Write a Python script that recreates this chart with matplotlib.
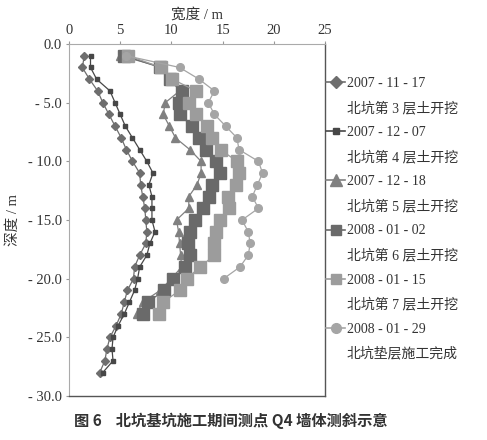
import matplotlib
matplotlib.use("Agg")
import matplotlib.pyplot as plt
from matplotlib.lines import Line2D

plt.rcParams['font.family'] = ['Liberation Serif', 'Noto Sans CJK SC']

# depth (m) of measuring points, negative downwards
depth_28 = [-d for d in range(1, 29)]
depth_23 = [-d for d in range(1, 24)]
depth_20 = [-d for d in range(1, 21)]

# displacement (m)
s_071117 = [1.5, 1.3, 2.0, 2.8, 3.3, 3.9, 4.5, 5.1, 5.6, 6.2, 6.9, 7.0, 7.2, 7.4,
            7.5, 7.6, 7.5, 6.9, 6.4, 6.3, 5.7, 5.4, 5.1, 4.6, 4.0, 3.7, 3.5, 3.0]
s_071207 = [2.1, 2.1, 2.7, 4.0, 4.5, 5.0, 5.5, 6.2, 6.9, 7.6, 8.2, 7.8, 8.1, 8.1,
            8.1, 8.4, 7.9, 7.6, 6.9, 6.7, 6.4, 5.9, 5.4, 4.8, 4.3, 4.2, 4.3, 3.3]
s_071218 = [5.0, 9.2, 9.9, 10.8, 9.4, 9.2, 9.8, 10.4, 11.8, 12.9, 12.9, 12.5,
            11.7, 11.7, 10.5, 10.7, 10.8, 10.9, 11.0, 10.0, 8.9, 7.2, 6.6]
s_080102 = [5.4, 8.9, 9.9, 11.0, 10.7, 10.8, 12.0, 12.7, 13.4, 14.4, 14.7, 14.0,
            13.7, 13.1, 12.3, 11.8, 11.6, 11.8, 11.3, 10.2, 9.3, 7.7, 7.2]
s_080115 = [5.8, 9.0, 10.1, 12.4, 11.7, 12.4, 13.5, 14.0, 14.8, 16.4, 16.6, 16.3,
            15.5, 15.6, 14.7, 14.4, 14.2, 14.2, 12.8, 11.5, 10.8, 9.2, 8.8]
s_080129 = [5.6, 10.8, 12.7, 14.2, 13.6, 14.2, 15.3, 16.4, 16.6, 18.5, 18.9, 18.4,
            17.9, 18.5, 16.9, 17.5, 17.7, 17.5, 16.7, 15.1]

dates = ["2007 - 11 - 17", "2007 - 12 - 07", "2007 - 12 - 18",
         "2008 - 01 - 02", "2008 - 01 - 15", "2008 - 01 - 29"]
stages = ["北坑第 3 层土开挖", "北坑第 4 层土开挖", "北坑第 5 层土开挖",
          "北坑第 6 层土开挖", "北坑第 7 层土开挖", "北坑垫层施工完成"]

# marker, size on plot, size in legend, colour
series = [
    (s_071117, depth_28, "D", 4.5, 6.0, "#6e6e6e"),
    (s_071207, depth_28, "s", 3.5, 4.0, "#474747"),
    (s_071218, depth_23, "^", 6.0, 8.5, "#808080"),
    (s_080102, depth_23, "s", 8.5, 7.0, "#6a6a6a"),
    (s_080115, depth_23, "s", 8.5, 6.5, "#9c9c9c"),
    (s_080129, depth_20, "o", 5.5, 7.0, "#a5a5a5"),
]

fig = plt.figure(figsize=(4.87, 4.40), dpi=100)
ax = fig.add_axes([69 / 487, 1 - 396 / 440, 256 / 487, 352 / 440])

handles = []
labels = []
for (xs, ys, mk, ms, lms, col), dt, st in zip(series, dates, stages):
    ax.plot(xs, ys, color=col, linewidth=0.9, marker=mk, markersize=ms,
            markerfacecolor=col, markeredgecolor=col)
    handles.append(Line2D([], [], color=col, linewidth=1.2, marker=mk,
                          markersize=lms, markerfacecolor=col,
                          markeredgecolor=col))
    labels.append(dt)
    handles.append(Line2D([], [], linestyle="none"))
    labels.append(st)

ax.set_xlim(0, 25)
ax.set_ylim(-30, 0)
ax.xaxis.tick_top()
ax.xaxis.set_label_position("top")
ax.set_xticks([0, 5, 10, 15, 20, 25])
ax.set_yticks([0, -5, -10, -15, -20, -25, -30])
ax.set_yticklabels(["0.0" if v == 0 else f"- {abs(v):.1f}" for v in ax.get_yticks()])
ax.tick_params(axis="both", labelsize=10.5, length=2, color="#999999",
               labelcolor="#333333", pad=3)
ax.set_xlabel("宽度 / m", fontsize=10.5, color="#333333", labelpad=4)
ax.set_ylabel("深度 / m", fontsize=10.5, color="#333333", labelpad=6)

for side in ["left", "top"]:
    ax.spines[side].set_color("#aaaaaa")
    ax.spines[side].set_linewidth(0.8)
for side in ["right", "bottom"]:
    ax.spines[side].set_color("#555555")
    ax.spines[side].set_linewidth(1.0)

fig.legend(handles, labels, loc="upper left",
           bbox_to_anchor=(326 / 487, 1 - 77 / 440), frameon=False,
           fontsize=10, handlelength=1.4, handletextpad=0.1,
           labelspacing=0.8, borderaxespad=0, borderpad=0,
           labelcolor="#333333")

fig.text(231 / 487, 1 - 421 / 440, "图 6    北坑基坑施工期间测点 Q4 墙体测斜示意",
         ha="center", va="center", fontsize=11, fontweight="bold",
         family=["Noto Sans CJK SC"], color="#333333")

fig.savefig("out.png", dpi=100)
